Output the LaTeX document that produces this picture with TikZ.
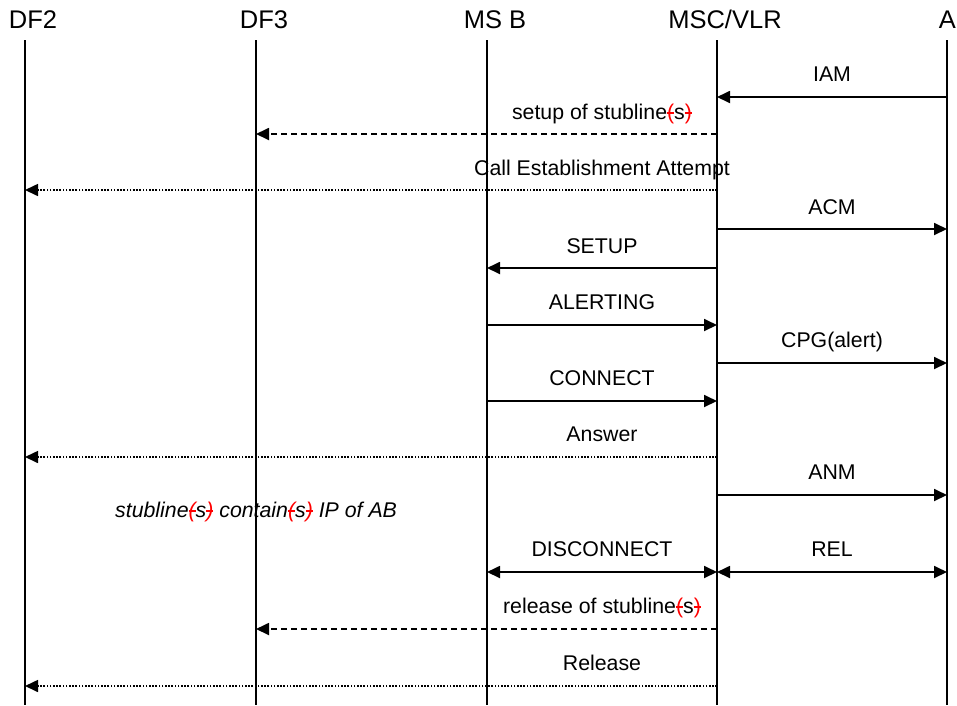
\documentclass[tikz,border=0pt]{standalone}
\usepackage{fontspec}
\setmainfont{Liberation Sans}
\usetikzlibrary{arrows.meta}
\newcommand\delp[1]{{\color{red}\setbox0\hbox{#1}\rlap{\rule[0.25em]{\wd0}{1.2pt}}\box0}}
\tikzset{
  lifeline/.style={line width=1.8pt},
  head/.style={anchor=base, inner sep=0pt, font=\fontsize{25.5}{28}\selectfont},
  lbl/.style={anchor=base, inner sep=0pt, font=\fontsize{21.3}{24}\selectfont},
  msg/.style={line width=1.8pt, -{Triangle[length=13pt,width=12pt]}},
  dmsg/.style={line width=1.8pt, {Triangle[length=13pt,width=12pt]}-{Triangle[length=13pt,width=12pt]}},
  dashmsg/.style={msg, dash pattern=on 6pt off 4pt},
  dotmsg/.style={msg, line width=1.6pt, dash pattern=on 1.6pt off 1.6pt},
}
\begin{document}
\begin{tikzpicture}[x=1pt,y=-1pt]
\useasboundingbox (0,0) rectangle (957,705);
% lifelines
\foreach \n/\x in {df2/25,df3/256,msb/487,msc/717,a/947}{
  \coordinate (\n) at (\x,40);
  \coordinate (\n b) at (\x,705);
  \draw[lifeline] (\n) -- (\n b);
}
% headers
\node[head] (hdf2) at (33,28) {DF2};
\node[head] (hdf3) at (264,28) {DF3};
\node[head] (hmsb) at (495,28) {MS B};
\node[head] (hmsc) at (725,28) {MSC/VLR};
\node[head, anchor=base east] (ha) at (956,28) {A};
% messages
\draw[msg] (a |- 0,97) -- (msc |- 0,97);
\node[lbl] (l1) at (832,81) {IAM};
\draw[dashmsg] (msc |- 0,134) -- (df3 |- 0,134);
\node[lbl] (l2) at (602,119) {setup of stubline\delp{(}s\delp{)}};
\draw[dotmsg] (msc |- 0,190) -- (df2 |- 0,190);
\node[lbl] (l3) at (602,175) {Call Establishment Attempt};
\draw[msg] (msc |- 0,229) -- (a |- 0,229);
\node[lbl] (l4) at (832,214) {ACM};
\draw[msg] (msc |- 0,268) -- (msb |- 0,268);
\node[lbl] (l5) at (602,253) {SETUP};
\draw[msg] (msb |- 0,325) -- (msc |- 0,325);
\node[lbl] (l6) at (602,309) {ALERTING};
\draw[msg] (msc |- 0,363) -- (a |- 0,363);
\node[lbl] (l7) at (832,347) {CPG(alert)};
\draw[msg] (msb |- 0,401) -- (msc |- 0,401);
\node[lbl] (l8) at (602,385) {CONNECT};
\draw[dotmsg] (msc |- 0,457) -- (df2 |- 0,457);
\node[lbl] (l9) at (602,441) {Answer};
\draw[msg] (msc |- 0,495) -- (a |- 0,495);
\node[lbl] (l10) at (832,479) {ANM};
\node[lbl, anchor=base west, font=\fontsize{21.3}{24}\selectfont\itshape] (note) at (115,517) {stubline\delp{(}s\delp{)} contain\delp{(}s\delp{)} IP of AB};
\draw[dmsg] (msb |- 0,572) -- (msc |- 0,572);
\node[lbl] (l11) at (602,556) {DISCONNECT};
\draw[dmsg] (msc |- 0,572) -- (a |- 0,572);
\node[lbl] (l12) at (832,556) {REL};
\draw[dashmsg] (msc |- 0,629) -- (df3 |- 0,629);
\node[lbl] (l13) at (602,613) {release of stubline\delp{(}s\delp{)}};
\draw[dotmsg] (msc |- 0,686) -- (df2 |- 0,686);
\node[lbl] (l14) at (602,670) {Release};
\end{tikzpicture}
\end{document}
